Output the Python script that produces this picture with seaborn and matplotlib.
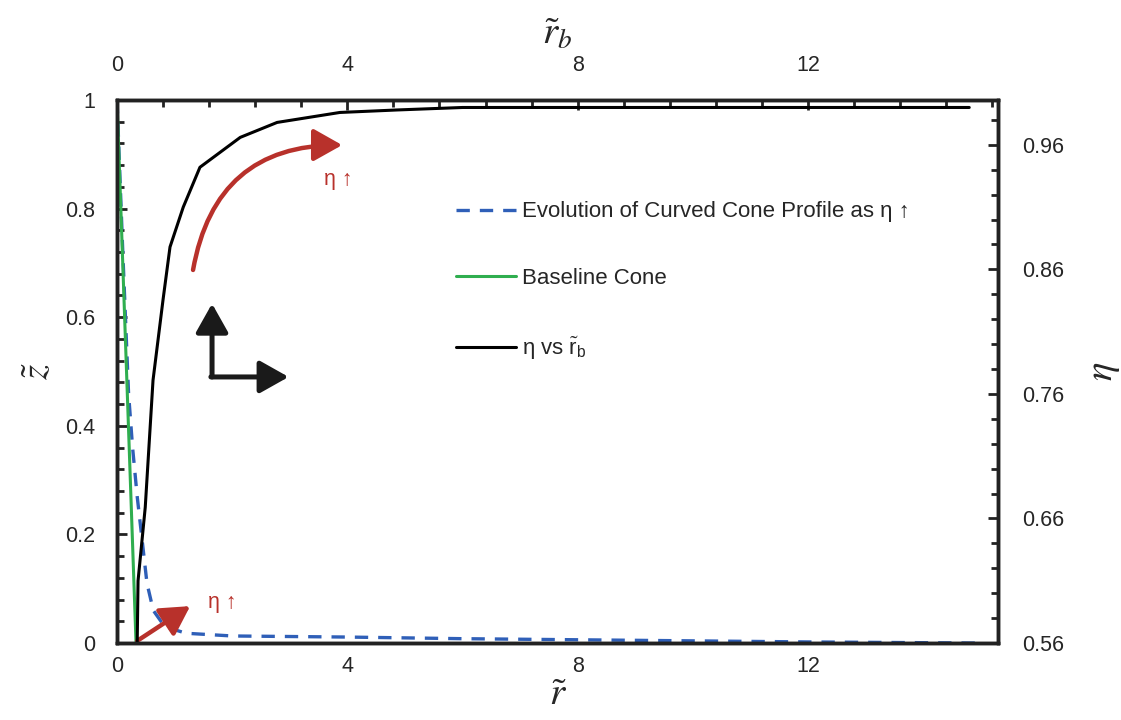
import matplotlib
matplotlib.use("Agg")
import matplotlib.pyplot as plt
import numpy as np
import pandas as pd
import seaborn as sns
from matplotlib.patches import FancyArrowPatch
from matplotlib.ticker import MultipleLocator, FuncFormatter

# Curved cone profile (z~ vs r~)
profile_r = [0.0, 0.10, 0.20, 0.27, 0.35, 0.43, 0.52, 0.63, 0.83, 1.2, 2.0,
             4.0, 6.0, 8.0, 10.0, 12.0, 14.9]
profile_z = [1.0, 0.72, 0.46, 0.36, 0.27, 0.195, 0.11, 0.06, 0.03, 0.018,
             0.013, 0.011, 0.008, 0.006, 0.004, 0.002, 0.0]

# Baseline cone
base_r = [0.0, 0.33]
base_z = [1.0, 0.0]

# eta vs r_b
rb = [0.35, 0.365, 0.49, 0.625, 0.80, 0.92, 1.15, 1.44, 2.14, 2.78, 3.87,
      4.86, 6.0, 8.0, 10.0, 12.0, 14.8]
eta = [0.56, 0.61, 0.669, 0.771, 0.836, 0.878, 0.910, 0.942, 0.966, 0.978,
       0.986, 0.988, 0.990, 0.990, 0.990, 0.990, 0.990]

eta_ticks = [0.56, 0.66, 0.76, 0.86, 0.96]

sns.set_theme(style="white")
plt.rcParams["font.family"] = ["Liberation Sans", "DejaVu Sans"]
plt.rcParams["mathtext.fontset"] = "stix"

red = "#B8312B"
blue = "#2F5FB8"
green = "#2FAE4F"

fig = plt.figure(figsize=(11.21, 7.2), dpi=100)
ax = fig.add_axes([0.1044, 0.1069, 0.7859, 0.7542])
ax2 = ax.twinx()
ax3 = ax2.twiny()

sns.lineplot(x=profile_r, y=profile_z, ax=ax, color=blue, lw=2.4,
             sort=False, estimator=None, label="Evolution of Curved Cone Profile as η ↑")
ax.lines[-1].set_dashes([4, 3])
sns.lineplot(x=base_r, y=base_z, ax=ax, color=green, lw=2.2, zorder=3,
             sort=False, estimator=None, label="Baseline Cone")
sns.lineplot(x=rb, y=eta, ax=ax3, color="black", lw=2.2,
             sort=False, estimator=None,
             label=r"η vs $\tilde{\mathregular{r}}_{\mathregular{b}}$")

for a in (ax, ax3):
    a.set_xlim(0, 15.3)
ax.set_ylim(0, 1)
ax2.set_ylim(0.56, 0.996)

ax.xaxis.set_major_locator(MultipleLocator(4))
ax.xaxis.set_minor_locator(MultipleLocator(0.8))
ax3.xaxis.set_major_locator(MultipleLocator(4))
ax3.xaxis.set_minor_locator(MultipleLocator(0.8))
ax.yaxis.set_major_locator(MultipleLocator(0.2))
ax.yaxis.set_minor_locator(MultipleLocator(0.04))
ax2.set_yticks(eta_ticks)
ax2.set_yticks(np.arange(0.56, 0.995, 0.02), minor=True)

fmt = FuncFormatter(lambda v, p: f"{v:g}")
ax.xaxis.set_major_formatter(fmt)
ax.yaxis.set_major_formatter(fmt)
ax3.xaxis.set_major_formatter(fmt)
ax2.yaxis.set_major_formatter(FuncFormatter(lambda v, p: f"{v:.2f}"))

for a in (ax, ax2, ax3):
    a.tick_params(which="both", direction="in", labelsize=15.5, color="#222222",
                  width=2.0)
    a.tick_params(which="major", length=7)
    a.tick_params(which="minor", length=5)
    for s in a.spines.values():
        s.set_linewidth(2.4)
        s.set_color("#222222")
    a.grid(False)
ax.tick_params(axis="y", pad=16)
ax.tick_params(axis="x", pad=9)
ax2.tick_params(axis="y", pad=17)
ax3.tick_params(axis="x", pad=17)

ax.set_xlabel(r"$\tilde{r}$", fontsize=28, labelpad=0)
ax.set_ylabel(r"$\tilde{z}$", fontsize=28, labelpad=6)
ax3.set_xlabel(r"$\tilde{r}_b$", fontsize=28, labelpad=8)
ax2.set_ylabel(r"$\eta$", fontsize=28, labelpad=16)

# legend
h1, l1 = ax.get_legend_handles_labels()
h3, l3 = ax3.get_legend_handles_labels()
if ax.get_legend():
    ax.get_legend().remove()
ax3.legend(h1 + h3, l1 + l3, loc="upper left", bbox_to_anchor=(0.362, 0.85),
           frameon=False, fontsize=16, handlelength=2.7, handletextpad=0.25,
           labelspacing=2.05)

# annotations (data coordinates of the bottom/left axes)
def arrow(p0, p1, color, rad=0.0, lw=3.2, scale=11):
    ax.add_patch(FancyArrowPatch(p0, p1, connectionstyle=f"arc3,rad={rad}",
                                 arrowstyle="-|>,head_length=1.6,head_width=0.9",
                                 mutation_scale=scale, color=color, lw=lw,
                                 shrinkA=0, shrinkB=0, zorder=5))

arrow((1.32, 0.687), (3.91, 0.917), red, rad=-0.42)
ax.text(3.6, 0.853, "η ↑", color=red, fontsize=15.5, va="center")
arrow((0.35, 0.004), (1.27, 0.068), red)
ax.text(1.58, 0.074, "η ↑", color=red, fontsize=15.5, va="center")
arrow((1.65, 0.49), (1.65, 0.625), "#1a1a1a", lw=3.6)
arrow((1.63, 0.49), (2.98, 0.49), "#1a1a1a", lw=3.6)

fig.savefig("out.png", dpi=100)
